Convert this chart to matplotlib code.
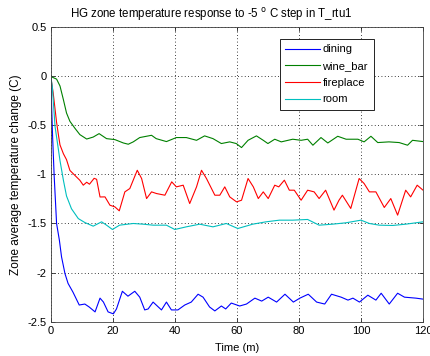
import numpy as np
import matplotlib
matplotlib.use("Agg")
import matplotlib.pyplot as plt

# time (minutes) and temperature change (C)
t_dining = [0, 0.3, 0.6, 1.1, 1.9, 2.8, 3.5, 4.6, 5.6, 7.2, 9.2, 11, 12.4, 14.3, 15.9, 17,
            18.5, 20.2, 21.2, 23.1, 24.9, 27.1, 28.7, 30.3, 31.4, 33, 35.7, 37.3, 38.9, 41,
            43.2, 45.3, 47.5, 49.1, 51.2, 52.9, 55, 56.4, 58.2, 60.9, 63.1, 65.8, 68, 70.1,
            72.8, 75.5, 78.2, 80.3, 83, 85.7, 88.3, 90.5, 93.6, 95.8, 97.4, 99.5, 102.2,
            104.8, 106.5, 109.1, 111.8, 114, 117.7, 120]
dining = [0, -0.3, -0.6, -1.0, -1.5, -1.67, -1.84, -2.01, -2.11, -2.20, -2.33, -2.32,
          -2.35, -2.40, -2.26, -2.30, -2.40, -2.42, -2.37, -2.19, -2.24, -2.19, -2.25, -2.38,
          -2.37, -2.30, -2.38, -2.30, -2.38, -2.38, -2.33, -2.30, -2.22, -2.25, -2.35, -2.39,
          -2.34, -2.37, -2.31, -2.34, -2.32, -2.26, -2.29, -2.25, -2.30, -2.22, -2.30, -2.26,
          -2.22, -2.30, -2.32, -2.22, -2.25, -2.28, -2.26, -2.30, -2.23, -2.28, -2.21, -2.32,
          -2.21, -2.25, -2.26, -2.27]

t_wine = [0, 0.5, 1.9, 3, 4.1, 5.1, 6.2, 7.8, 9.4, 11.6, 13.7, 15.6, 18, 20.7, 23.4, 25, 26.6,
          28.7, 32.5, 34, 37.3, 40.5, 43.7, 47, 49.6, 52.3, 55, 57.7, 59.8, 61.5, 63.6, 66.3,
          68.5, 70, 72.2, 74.3, 78, 80.7, 82.8, 84.5, 87.1, 89.3, 92.5, 95.2, 99, 101, 103.2,
          105.4, 109, 112.3, 115, 116.6, 120]
wine_bar = [0, -0.01, -0.03, -0.10, -0.24, -0.375, -0.46, -0.53, -0.595, -0.64, -0.62, -0.585,
            -0.636, -0.646, -0.68, -0.693, -0.669, -0.625, -0.602, -0.636, -0.666, -0.625,
            -0.625, -0.653, -0.608, -0.636, -0.686, -0.669, -0.686, -0.727, -0.653, -0.608,
            -0.653, -0.686, -0.642, -0.669, -0.642, -0.653, -0.642, -0.703, -0.625, -0.68,
            -0.612, -0.642, -0.642, -0.669, -0.612, -0.676, -0.669, -0.676, -0.703, -0.653,
            -0.666]

t_fire = [0, 0.8, 1.9, 2.5, 3, 4.1, 5.1, 6.2, 7.8, 9.4, 10.5, 11.6, 12.5, 14, 14.8, 15.9, 17.5,
          19.1, 20.7, 22.1, 23.9, 25.5, 27.9, 29.3, 30.9, 32.5, 34.1, 36.8, 39, 40.5, 42.7,
          44.8, 47, 48.6, 50.2, 52.9, 54.5, 56.1, 57.7, 59.9, 61.5, 63.6, 65.3, 66.9, 68.5,
          70.1, 72.2, 73.5, 75.3, 76.9, 78.5, 80.7, 82.8, 84.9, 86.5, 88.6, 91.3, 92.9, 94,
          96.7, 99.4, 101, 102.7, 104.8, 107.5, 109.6, 111.8, 114.4, 116, 118.1, 120]
fireplace = [0, -0.17, -0.47, -0.6, -0.7, -0.79, -0.85, -0.96, -1.01, -1.06, -1.11, -1.08,
             -1.10, -1.04, -1.05, -1.23, -1.229, -1.314, -1.331, -1.371, -1.178, -1.144, -0.958,
             -1.042, -1.246, -1.178, -1.195, -1.212, -1.076, -1.127, -1.110, -1.297, -1.127,
             -0.958, -1.042, -1.212, -1.212, -1.127, -1.229, -1.280, -1.263, -1.042, -1.127,
             -1.246, -1.178, -1.246, -1.110, -1.127, -1.059, -1.161, -1.161, -1.263, -1.161,
             -1.178, -1.246, -1.161, -1.364, -1.263, -1.212, -1.347, -1.042, -1.093, -1.178,
             -1.178, -1.337, -1.246, -1.415, -1.161, -1.229, -1.110, -1.161]

t_room = [0, 0.5, 1.4, 2.5, 3, 4.1, 5.1, 6.7, 8.9, 11, 13.7, 16.4, 18, 19.9, 22.2, 26.6, 29.8,
          33, 37.3, 40, 43.7, 48, 52.3, 56.6, 60.3, 65.1, 69.4, 73.7, 78, 82.8, 86.5, 90.8,
          95.1, 100, 102.7, 105.9, 110.2, 114.4, 120]
room = [0, -0.1, -0.51, -0.75, -0.86, -1.06, -1.22, -1.35, -1.45, -1.49, -1.527, -1.483,
        -1.517, -1.561, -1.517, -1.50, -1.507, -1.517, -1.517, -1.561, -1.534, -1.507, -1.534,
        -1.50, -1.551, -1.507, -1.483, -1.466, -1.466, -1.459, -1.517, -1.507, -1.493,
        -1.466, -1.50, -1.517, -1.52, -1.507, -1.483]

labels = ["dining", "wine_bar", "fireplace", "room"]
colors = ["#0000ff", "#008000", "#ff0000", "#00bfbf"]

plt.rcParams['font.family'] = ['Liberation Sans', 'DejaVu Sans']
fs = 8

fig = plt.figure(figsize=(4.31, 3.56), dpi=100)
ax = fig.add_axes([0.1176, 0.0963, 0.864, 0.8277])

series = [(t_dining, dining), (t_wine, wine_bar), (t_fire, fireplace), (t_room, room)]
for (t, v), lab, c in zip(series, labels, colors):
    ax.plot(t, v, color=c, lw=0.8, label=lab)

ax.set_xlim(0, 120)
ax.set_ylim(-2.5, 0.5)
ax.set_xticks(np.arange(0, 121, 20))
ax.set_yticks(np.arange(-2.5, 0.51, 0.5))
ax.set_yticklabels(["-2.5", "-2", "-1.5", "-1", "-0.5", "0", "0.5"])
ax.tick_params(direction='in', top=True, right=True, labelsize=fs, length=3, width=0.5, pad=3)
ax.grid(True, linestyle=(0, (1, 3)), color='black', linewidth=0.6)
for s in ax.spines.values():
    s.set_linewidth(0.6)
    s.set_color('#404040')

# title sits left of the axes centre in the reference
fig.text(211 / 431, 1 - 15 / 356,
         r'HG zone temperature response to -5 $^{\mathrm{o}}$ C step in T_rtu1',
         fontsize=fs + 0.3, ha='center', va='center')
ax.set_xlabel('Time (m)', fontsize=fs, labelpad=5)
ax.set_ylabel('Zone average temperature change (C)', fontsize=fs + 0.5, labelpad=4)

leg = ax.legend(loc='upper right', bbox_to_anchor=(0.867, 0.96), fontsize=fs,
                fancybox=False, framealpha=1, edgecolor='black', handlelength=3.1,
                handletextpad=0.25, borderpad=0.5, labelspacing=0.6, borderaxespad=0)
leg.get_frame().set_linewidth(0.6)

fig.savefig('out.png', dpi=100)
